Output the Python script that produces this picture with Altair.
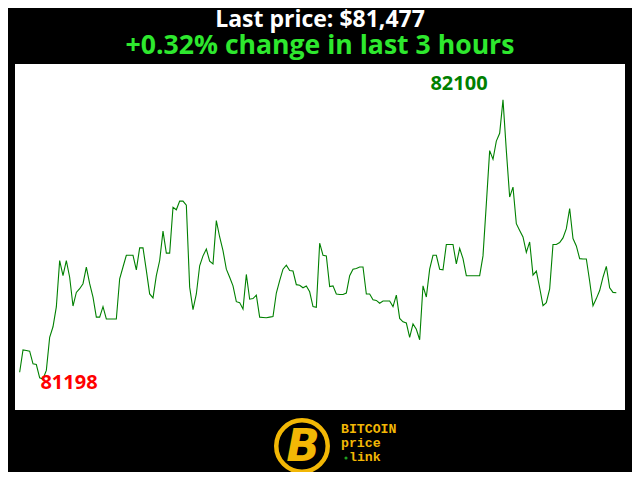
import altair as alt
import pandas as pd

minutes = list(range(180))
prices = [
    81220, 81292, 81290, 81288, 81247, 81245, 81202, 81198, 81226, 81333,
    81367, 81431, 81581, 81532, 81581, 81527, 81434, 81478, 81490, 81506,
    81560, 81506, 81463, 81398, 81398, 81432, 81392, 81392, 81392, 81392,
    81522, 81560, 81598, 81598, 81598, 81551, 81622, 81622, 81549, 81473,
    81460, 81532, 81581, 81676, 81605, 81605, 81753, 81745, 81773, 81773,
    81760, 81495, 81422, 81473, 81564, 81596, 81618, 81579, 81570, 81710,
    81657, 81613, 81553, 81527, 81499, 81448, 81445, 81424, 81536, 81456,
    81458, 81469, 81398, 81397, 81396, 81398, 81400, 81476, 81516, 81553,
    81566, 81549, 81547, 81503, 81501, 81493, 81499, 81480, 81432, 81430,
    81637, 81598, 81596, 81497, 81499, 81473, 81471, 81471, 81476, 81532,
    81553, 81555, 81560, 81560, 81473, 81473, 81454, 81452, 81443, 81450,
    81450, 81450, 81432, 81469, 81394, 81383, 81379, 81333, 81376, 81359,
    81325, 81499, 81463, 81553, 81598, 81598, 81553, 81551, 81633, 81633,
    81633, 81570, 81620, 81587, 81532, 81532, 81532, 81532, 81532, 81596,
    81764, 81936, 81908, 81967, 81992, 82100, 81936, 81786, 81818, 81700,
    81678, 81657, 81607, 81641, 81534, 81547, 81493, 81435, 81445, 81489,
    81633, 81633, 81639, 81654, 81684, 81749, 81652, 81628, 81587, 81586,
    81586, 81514, 81435, 81458, 81484, 81527, 81562, 81493, 81478, 81477,
]

title_text = "Last price: $81,477"
subtitle_text = "+0.32% change in last 3 hours"
logo_lines = ["BITCOIN", "price", "link"]

df = pd.DataFrame({"minute": minutes, "price": prices})
imax = df["price"].idxmax()
imin = df["price"].idxmin()
df_max = df.loc[[imax]].assign(label=lambda d: d["price"].astype(str))
df_min = df.loc[[imin]].assign(label=lambda d: d["price"].astype(str))

W, H = 610, 346
xs = alt.Scale(domain=[-1.4, 181.6], nice=False, zero=False)
ys = alt.Scale(domain=[81098, 82216], nice=False, zero=False)
X = alt.X("minute:Q", scale=xs, axis=None)
Y = alt.Y("price:Q", scale=ys, axis=None)

line = alt.Chart(df).mark_line(color="#008000", strokeWidth=1.1).encode(x=X, y=Y)

max_lbl = alt.Chart(df_max).mark_text(
    font="Open Sans", fontWeight="bold", fontSize=20, color="#008000",
    dx=-44, dy=-16, align="center", baseline="middle",
).encode(x=X, y=Y, text="label:N")

min_lbl = alt.Chart(df_min).mark_text(
    font="Open Sans", fontWeight="bold", fontSize=20, color="#ff0000",
    dx=26, dy=4, align="center", baseline="middle",
).encode(x=X, y=Y, text="label:N")

GOLD = "#f2b705"
one = pd.DataFrame({"k": [0]})
logo_circle = alt.Chart(one).mark_point(
    shape="circle", filled=False, stroke=GOLD, strokeWidth=4.5, size=2650, opacity=1
).encode(x=alt.value(287), y=alt.value(382))
logo_b = alt.Chart(one).mark_text(
    text="B", font="DejaVu Sans", fontWeight="bold", fontStyle="italic", fontSize=44,
    color=GOLD, align="center", baseline="middle",
).encode(x=alt.value(288), y=alt.value(384))

def logo_word(word, x, y):
    return alt.Chart(pd.DataFrame({"t": [word]})).mark_text(
        font="Liberation Mono", fontWeight="bold", fontSize=13.2, color=GOLD,
        align="left", baseline="middle",
    ).encode(x=alt.value(x), y=alt.value(y), text="t:N")

logo_t1 = logo_word(logo_lines[0], 326, 365)
logo_t2 = logo_word(logo_lines[1], 326, 379)
logo_t3 = logo_word(logo_lines[2], 334, 393)
logo_dot = alt.Chart(one).mark_point(
    shape="circle", filled=True, color="#1fa01f", size=10, opacity=1
).encode(x=alt.value(331), y=alt.value(394))

chart = alt.layer(
    line, max_lbl, min_lbl, logo_circle, logo_b, logo_t1, logo_t2, logo_t3, logo_dot
).properties(
    width=W, height=H,
    title=alt.TitleParams(
        text=title_text, subtitle=subtitle_text,
        font="Open Sans", fontWeight="bold", fontSize=23, color="#ffffff",
        subtitleFont="Open Sans", subtitleFontWeight="bold", subtitleFontSize=26.6,
        subtitleColor="#2ee82e", anchor="middle", offset=4, subtitlePadding=1,
    ),
    autosize=alt.AutoSizeParams(type="none"),
    padding={"left": 7, "top": 56, "right": 7, "bottom": 62},
    background="#000000",
).configure_view(fill="#ffffff", stroke=None)

chart.save("out.html", embed_options={"renderer": "svg", "actions": False})
